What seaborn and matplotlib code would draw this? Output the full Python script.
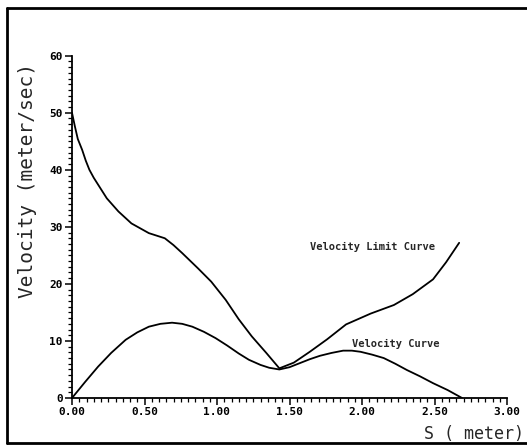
import numpy as np
import pandas as pd
import matplotlib
matplotlib.use("Agg")
import matplotlib.pyplot as plt
import seaborn as sns
from matplotlib.ticker import MultipleLocator, FormatStrFormatter
from matplotlib.lines import Line2D

# ---- data ----
limit_s = [0.00, 0.02, 0.04, 0.07, 0.095, 0.12, 0.15, 0.18, 0.24, 0.32, 0.41, 0.53,
           0.64, 0.70, 0.76, 0.87, 0.96, 1.06, 1.15, 1.24, 1.34, 1.43, 1.53, 1.64,
           1.76, 1.89, 2.06, 2.22, 2.35, 2.49, 2.58, 2.67]
limit_v = [50.0, 47.6, 45.4, 43.5, 41.6, 40.0, 38.6, 37.4, 35.0, 32.7, 30.6, 28.9,
           28.0, 26.8, 25.4, 22.7, 20.4, 17.2, 13.8, 10.8, 7.9, 5.2, 6.2, 8.1,
           10.3, 12.9, 14.8, 16.3, 18.2, 20.8, 23.8, 27.2]

vel_s = [0.00, 0.09, 0.18, 0.27, 0.37, 0.45, 0.53, 0.61, 0.69, 0.76, 0.83, 0.91,
         0.99, 1.07, 1.15, 1.22, 1.30, 1.36, 1.43, 1.50, 1.57, 1.64, 1.71, 1.79,
         1.87, 1.93, 1.99, 2.07, 2.15, 2.23, 2.31, 2.40, 2.49, 2.59, 2.69]
vel_v = [0.0, 2.8, 5.5, 7.9, 10.2, 11.5, 12.5, 13.0, 13.2, 13.0, 12.5, 11.6,
         10.5, 9.2, 7.8, 6.7, 5.8, 5.3, 5.0, 5.4, 6.1, 6.8, 7.4, 7.9,
         8.3, 8.3, 8.1, 7.6, 7.0, 6.0, 4.9, 3.8, 2.6, 1.4, 0.0]

x_ticks = [0.0, 0.5, 1.0, 1.5, 2.0, 2.5, 3.0]
y_ticks = [0, 10, 20, 30, 40, 50, 60]

limit_label = "Velocity Limit Curve"
vel_label = "Velocity Curve"
y_title = "Velocity (meter/sec)"
x_title = "S ( meter)"

sns.set_style("ticks")
plt.rcParams['font.family'] = ['DejaVu Sans Mono']

W, H = 527, 445
fig = plt.figure(figsize=(W / 100, H / 100), dpi=100)
ax = fig.add_axes([72 / W, 1 - 398 / H, (507 - 72) / W, (398 - 55.7) / H])

limit_df = pd.DataFrame({"S": limit_s, "V": limit_v})
vel_df = pd.DataFrame({"S": vel_s, "V": vel_v})
sns.lineplot(data=limit_df, x="S", y="V", ax=ax, color="black", lw=1.3,
             estimator=None, sort=False)
sns.lineplot(data=vel_df, x="S", y="V", ax=ax, color="black", lw=1.3,
             estimator=None, sort=False)

ax.set_xlim(0, 3)
ax.set_ylim(0, 60)
ax.set_xticks(x_ticks)
ax.set_yticks(y_ticks)
ax.xaxis.set_minor_locator(MultipleLocator(0.05))
ax.yaxis.set_minor_locator(MultipleLocator(1))
ax.xaxis.set_major_formatter(FormatStrFormatter("%.2f"))
ax.yaxis.set_major_formatter(FormatStrFormatter("%d"))
ax.set_xlabel("")
ax.set_ylabel("")
sns.despine(ax=ax)
for sp in ("left", "bottom"):
    ax.spines[sp].set_linewidth(1.3)
    ax.spines[sp].set_color("black")
ax.tick_params(which="major", direction="out", length=5, width=1.1,
               colors="black", labelsize=8, pad=1.5)
ax.tick_params(which="minor", direction="out", length=3, width=0.9, colors="black")
for lab in ax.get_xticklabels() + ax.get_yticklabels():
    lab.set_fontweight("bold")

ax.text(1.64, 26.5, limit_label, fontsize=7.5, ha="left", va="center",
        fontweight="bold")
ax.text(1.93, 9.4, vel_label, fontsize=7.5, ha="left", va="center",
        fontweight="bold")

fig.text(28 / W, 1 - 180 / H, y_title, rotation=90, fontsize=14,
         ha="center", va="center")
fig.text(424 / W, 1 - 439 / H, x_title, fontsize=12, ha="left", va="baseline")

# scanned page frame
lw = 2.0
fig.add_artist(Line2D([7 / W, 7 / W], [1 - 8 / H, 1 - 443 / H],
                      transform=fig.transFigure, color="black", lw=lw))
fig.add_artist(Line2D([7 / W, 1.0], [1 - 8 / H, 1 - 8 / H],
                      transform=fig.transFigure, color="black", lw=lw))
fig.add_artist(Line2D([7 / W, 1.0], [1 - 443 / H, 1 - 443 / H],
                      transform=fig.transFigure, color="black", lw=lw))

fig.savefig("out.png", dpi=100)
